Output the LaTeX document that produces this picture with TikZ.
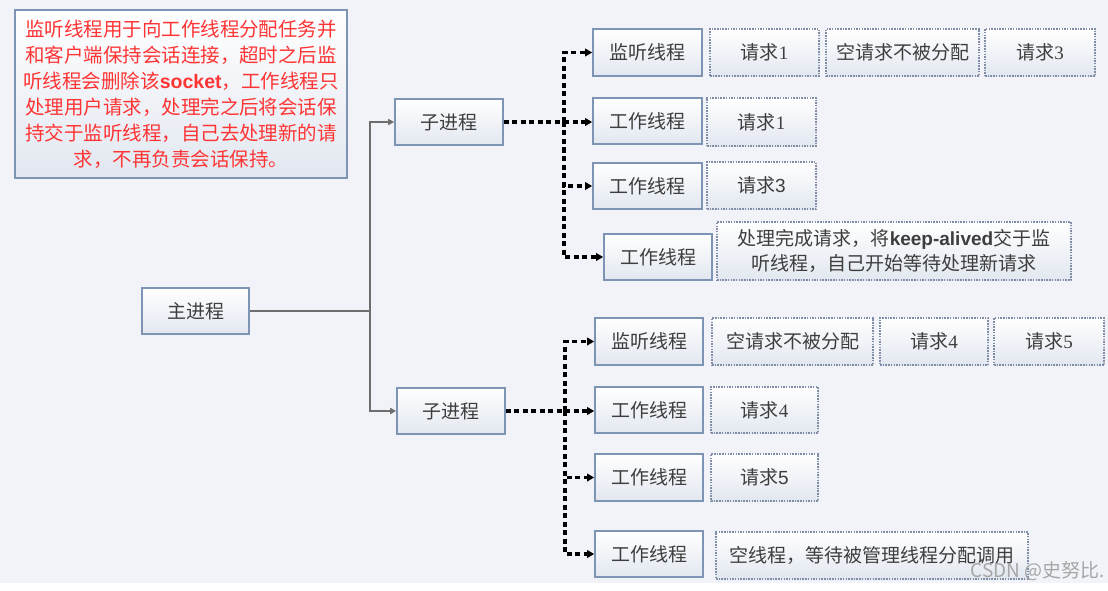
\documentclass[tikz,border=0pt]{standalone}
\usepackage{fontspec}
\setmainfont{Noto Sans CJK SC}
\newfontfamily\lsans{Liberation Sans}
\newfontfamily\lserif{Liberation Serif}
\usetikzlibrary{arrows.meta,shadows}
\definecolor{bg}{HTML}{F1F3F8}
\definecolor{boxbot}{HTML}{E2E7F0}
\definecolor{bord}{HTML}{7E94B4}
\definecolor{dbord}{HTML}{7F8DA6}
\definecolor{txt}{HTML}{3E3E3E}
\definecolor{gl}{HTML}{6E6E6E}
\definecolor{notered}{HTML}{FF3434}
\newcommand\bx[7]{%
  \pgfmathsetmacro\bxcx{(#3+#5)/2}\pgfmathsetmacro\bxcy{(#4+#6)/2}%
  \pgfmathsetmacro\bxw{#5-#3}\pgfmathsetmacro\bxh{#6-#4}%
  \node[#1, minimum width=\bxw pt, minimum height=\bxh pt] (#2) at (\bxcx,\bxcy) {#7};}
\newcommand\dg[1]{{\lserif #1}}
\newcommand\ds[1]{{\lsans #1}}
\begin{document}
\begin{tikzpicture}[x=1pt,y=-1pt,
  base/.style={inner sep=0pt, align=center, font=\fontsize{19}{25}\selectfont, text=txt,
    top color=white, bottom color=boxbot,
    drop shadow={shadow xshift=1.3pt,shadow yshift=-1.3pt,fill=black!16}},
  sbox/.style={base, draw=bord, line width=1.6pt},
  dbox/.style={base, draw=dbord, line width=1.4pt, dash pattern=on 1.5pt off 1.2pt},
  gline/.style={draw=gl, line width=2pt},
  garrow/.style={gline, -{Triangle[length=6pt,width=6pt]}},
  kline/.style={draw=black, line width=3.2pt, dash pattern=on 5pt off 3.5pt},
  karrow/.style={kline, -{Triangle[length=7pt,width=7.5pt]}}]
\useasboundingbox (0,0) rectangle (1108,591);
\fill[white] (0,0) rectangle (1108,591);
\fill[bg] (0,0) rectangle (1108,583);

% note
\bx{sbox, text=notered, font=\fontsize{19.5}{26}\selectfont}{note}{15}{10}{347}{178}{%
监听线程用于向工作线程分配任务并\\
和客户端保持会话连接，超时之后监\\
听线程会删除该{\lsans\bfseries socket}，工作线程只\\
处理用户请求，处理完之后将会话保\\
持交于监听线程，自己去处理新的请\\
求，不再负责会话保持。}

% main and sub processes
\bx{sbox}{main}{142}{288}{249}{334}{主进程}
\bx{sbox}{sub1}{395}{99}{503}{145}{子进程}
\bx{sbox}{sub2}{397}{388}{505}{434}{子进程}

% upper threads
\bx{sbox}{t1}{593}{29}{702}{76}{监听线程}
\bx{sbox}{t2}{593}{98}{702}{144}{工作线程}
\bx{sbox}{t3}{593}{163}{702}{209}{工作线程}
\bx{sbox}{t4}{604}{234}{712}{280}{工作线程}

% lower threads
\bx{sbox}{u1}{595}{318}{703}{365}{监听线程}
\bx{sbox}{u2}{595}{387}{703}{433}{工作线程}
\bx{sbox}{u3}{595}{454}{703}{501}{工作线程}
\bx{sbox}{u4}{595}{531}{703}{577}{工作线程}

% upper requests
\bx{dbox}{r11}{710}{29}{819}{76}{请求\dg{1}}
\bx{dbox}{r12}{826}{29}{979}{76}{空请求不被分配}
\bx{dbox}{r13}{985}{29}{1095}{76}{请求\dg{3}}
\bx{dbox}{r21}{707}{98}{816}{146}{请求\dg{1}}
\bx{dbox}{r31}{707}{162}{816}{209}{请求\ds{3}}
\bx{dbox}{r41}{717}{222}{1071}{280}{处理完成请求，将{\lsans\bfseries keep-alived}交于监\\听线程，自己开始等待处理新请求}

% lower requests
\bx{dbox}{s11}{712}{318}{873}{365}{空请求不被分配}
\bx{dbox}{s12}{880}{318}{988}{365}{请求\dg{4}}
\bx{dbox}{s13}{994}{318}{1104}{365}{请求\dg{5}}
\bx{dbox}{s21}{711}{387}{818}{433}{请求\dg{4}}
\bx{dbox}{s31}{711}{454}{818}{501}{请求\ds{5}}
\bx{dbox}{s41}{716}{532}{1028}{579}{空线程，等待被管理线程分配调用}

% solid connectors
\coordinate (j) at (370,311);
\draw[gline] (main.east) -- (j);
\draw[garrow] (j) |- (sub1.west);
\draw[garrow] (j) |- (sub2.west);

% dashed connectors, upper
\coordinate (c1) at (564,122);
\draw[kline] (sub1.east) -- (c1);
\draw[karrow] (c1) -- (c1 -| t2.west);
\draw[karrow] (c1) |- (t1.west);
\draw[karrow] (c1) |- (t3.west);
\draw[karrow] (c1) |- (t4.west);

% dashed connectors, lower
\coordinate (c2) at (565,411);
\draw[kline] (sub2.east) -- (c2);
\draw[karrow] (c2) -- (c2 -| u2.west);
\draw[karrow] (c2) |- (u1.west);
\draw[karrow] (c2) |- (u3.west);
\draw[karrow] (c2) |- (u4.west);

% watermark
\node[anchor=east, text=black!35, font=\fontsize{19}{19}\selectfont, inner sep=0pt] (wm) at (1105,571) {CSDN @史努比.};
\end{tikzpicture}
\end{document}
